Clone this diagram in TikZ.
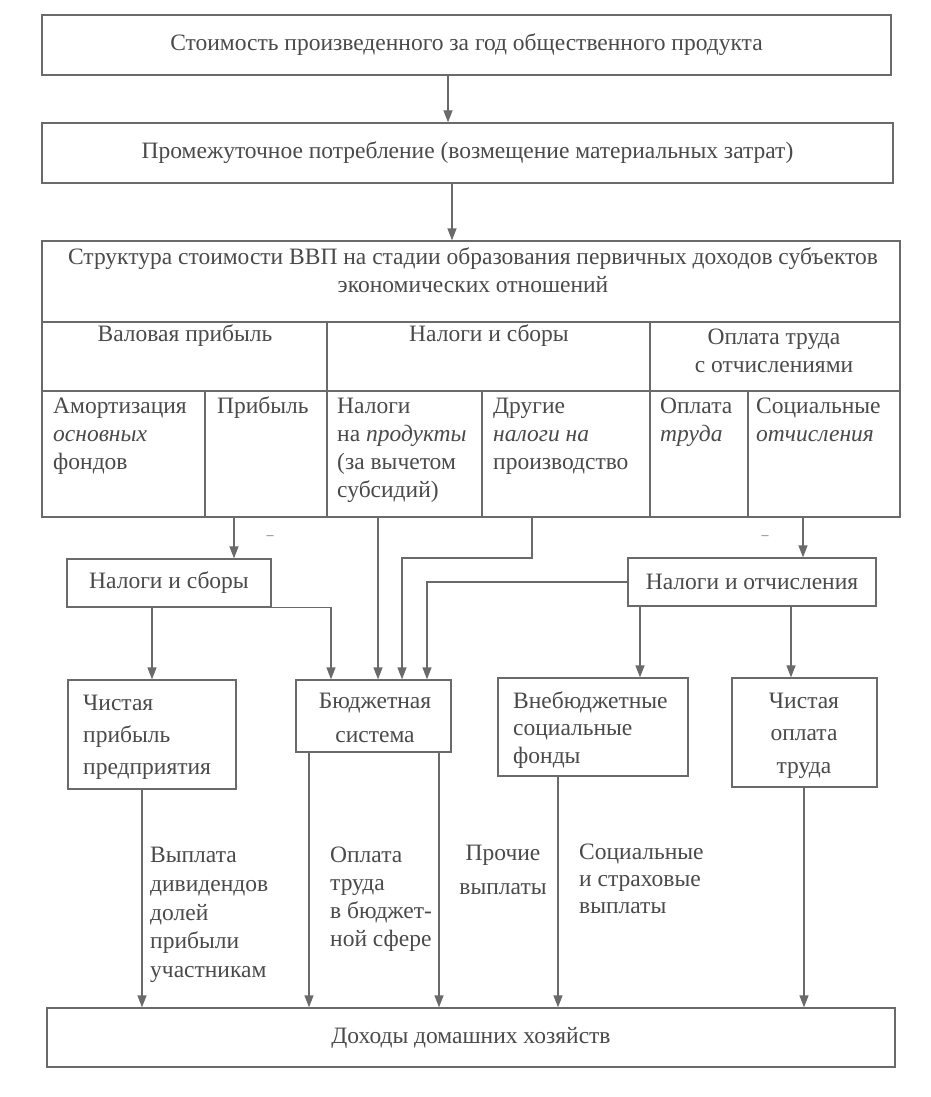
\documentclass[tikz,border=0pt]{standalone}
\usepackage{fontspec}
\setmainfont{Liberation Serif}
\usetikzlibrary{arrows.meta}
\definecolor{lnc}{HTML}{6A6A6A}
\definecolor{txc}{HTML}{4A4A4A}
\begin{document}
\begin{tikzpicture}[x=1pt,y=-1pt,
  box/.style={draw=lnc, line width=1.3pt, inner sep=0pt},
  t/.style={text=txc, font=\fontsize{23.5}{28}\selectfont, inner sep=0pt},
  tc/.style={t, anchor=mid},
  ml/.style={t, align=left, anchor=north west},
  mc/.style={t, align=center, anchor=north},
  arr/.style={draw=lnc, line width=1.3pt, -{Triangle[length=12pt,width=9pt]}},
  lnx/.style={draw=lnc, line width=1.3pt},
  dsh/.style={text=lnc, font=\fontsize{14}{14}\selectfont, inner sep=0pt}
]
\useasboundingbox[fill=white] (0,0) rectangle (931,1097);

% top boxes
\node[box, t, minimum width=849pt, minimum height=60pt] (b1) at (466.5,45) {Стоимость произведенного за год общественного продукта};
\node[box, t, minimum width=851pt, minimum height=60pt] (b2) at (467.5,153) {Промежуточное потребление (возмещение материальных затрат)};

% table
\node[box, minimum width=858pt, minimum height=276pt] (tbl) at (471,379) {};
\coordinate (r1) at (42,322);
\coordinate (r2) at (42,391);
\draw[lnx] (tbl.west |- r1) -- (tbl.east |- r1);
\draw[lnx] (tbl.west |- r2) -- (tbl.east |- r2);
\draw[lnx] (327,322) -- (327,0 |- tbl.south);
\draw[lnx] (650,322) -- (650,0 |- tbl.south);
\draw[lnx] (205,391) -- (205,0 |- tbl.south);
\draw[lnx] (482,391) -- (482,0 |- tbl.south);
\draw[lnx] (748,391) -- (748,0 |- tbl.south);

\node[mc] (tt) at (473,244.5) {\strut Структура стоимости ВВП на стадии образования первичных доходов субъектов\\экономических отношений};
\node[tc] (g1) at (185,339) {Валовая прибыль};
\node[tc] (g2) at (489,339) {Налоги и сборы};
\node[mc] (g3) at (774,324.7) {\strut Оплата труда\\с отчислениями};

\node[ml] (c1) at (53,393.7) {\strut Амортизация\\\textit{основных}\\фондов};
\node[ml] (c2) at (217,393.7) {\strut Прибыль};
\node[ml] (c3) at (337,393.7) {\strut Налоги\\на \textit{продукты}\\(за вычетом\\субсидий)};
\node[ml] (c4) at (493,393.7) {\strut Другие\\\textit{налоги на}\\производство};
\node[ml] (c5) at (660,393.7) {\strut Оплата\\\textit{труда}};
\node[ml] (c6) at (756,393.7) {\strut Социальные\\\textit{отчисления}};

% middle boxes
\node[box, t, minimum width=204pt, minimum height=48pt] (ns) at (169,583) {Налоги и сборы};
\node[box, t, minimum width=248pt, minimum height=48pt] (no) at (752,582) {Налоги и отчисления};

\node[dsh] (d1) at (270,538) {–};
\node[dsh] (d2) at (765,538) {–};

% lower boxes
\node[box, minimum width=168pt, minimum height=109pt] (chp) at (152,734.5) {};
\node[ml, font=\fontsize{23.5}{32}\selectfont] (chpt) at (83,687.9) {\strut Чистая\\прибыль\\предприятия};

\node[box, minimum width=155pt, minimum height=72pt] (bud) at (373.5,716) {};
\node[mc, font=\fontsize{23.5}{34}\selectfont] (budt) at (375,684.5) {\strut Бюджетная\\система};

\node[box, minimum width=190pt, minimum height=98pt] (vsf) at (593,727) {};
\node[ml, font=\fontsize{23.5}{27.5}\selectfont] (vsft) at (513,688.7) {\strut Внебюджетные\\социальные\\фонды};

\node[box, minimum width=145pt, minimum height=109pt] (chot) at (804.5,732.5) {};
\node[mc, font=\fontsize{23.5}{32.5}\selectfont] (chott) at (804,685.5) {\strut Чистая\\оплата\\труда};

\node[box, t, minimum width=848pt, minimum height=59pt] (doh) at (471,1037.5) {Доходы домашних хозяйств};

% arrows top
\draw[arr] (448,0 |- b1.south) -- (448,0 |- b2.north);
\draw[arr] (452,0 |- b2.south) -- (452,0 |- tbl.north);

% arrows from table
\draw[arr] (234,0 |- tbl.south) -- (234,0 |- ns.north);
\draw[arr] (378,0 |- tbl.south) -- (378,0 |- bud.north);
\draw[arr] (532,0 |- tbl.south) -- (532,558) -- (402,558) -- (402,0 |- bud.north);
\draw[arr] (803,0 |- tbl.south) -- (803,0 |- no.north);
\draw[arr] (no.west) -- (427,0 |- no.west) -- (427,0 |- bud.north);
\draw[arr] (ns.south east) -- (331,0 |- ns.south east) -- (331,0 |- bud.north);
\draw[arr] (152,0 |- ns.south) -- (152,0 |- chp.north);
\draw[arr] (640,0 |- no.south) -- (640,0 |- vsf.north);
\draw[arr] (791,0 |- no.south) -- (791,0 |- chot.north);

% arrows to households
\draw[arr] (142,0 |- chp.south) -- (142,0 |- doh.north);
\draw[arr] (309,0 |- bud.south) -- (309,0 |- doh.north);
\draw[arr] (439,0 |- bud.south) -- (439,0 |- doh.north);
\draw[arr] (558,0 |- vsf.south) -- (558,0 |- doh.north);
\draw[arr] (804,0 |- chot.south) -- (804,0 |- doh.north);

% labels
\node[ml, font=\fontsize{23.5}{28.7}\selectfont] (l1) at (150,842.3) {\strut Выплата\\дивидендов\\долей\\прибыли\\участникам};
\node[ml] (l2) at (330,842.7) {\strut Оплата\\труда\\в бюджет-\\ной сфере};
\node[mc, font=\fontsize{23.5}{34}\selectfont] (l3) at (503,836.5) {\strut Прочие\\выплаты};
\node[ml, font=\fontsize{23.5}{27}\selectfont] (l4) at (579,840.4) {\strut Социальные\\и страховые\\выплаты};
\end{tikzpicture}
\end{document}
